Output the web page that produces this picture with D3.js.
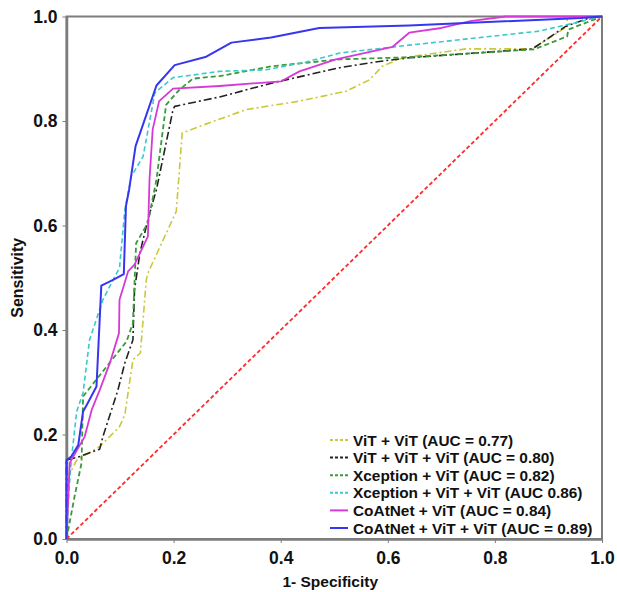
<!DOCTYPE html>
<html>
<head>
<meta charset="utf-8">
<script src="https://cdn.jsdelivr.net/npm/d3@7"></script>
<style>
  body { margin: 0; background: #fff; }
  text { font-family: "Liberation Sans", Arial, sans-serif; font-weight: bold; fill: #111; }
</style>
</head>
<body>
<svg id="chart" width="617" height="592"></svg>
<script>
// ROC points [1 - specificity, sensitivity]
const vitVit = [[0,0],[0.003,0.119],[0.019,0.151],[0.062,0.177],[0.099,0.215],[0.109,0.238],[0.124,0.343],[0.138,0.356],[0.149,0.496],[0.152,0.509],[0.205,0.627],[0.216,0.777],[0.249,0.790],[0.336,0.822],[0.435,0.838],[0.522,0.857],[0.566,0.879],[0.590,0.905],[0.628,0.921],[0.746,0.938],[0.870,0.938],[0.935,0.981],[0.935,1.0],[1,1]]
const vitVitVit = [[0,0],[0,0.151],[0.025,0.158],[0.062,0.172],[0.068,0.196],[0.096,0.285],[0.109,0.337],[0.124,0.381],[0.127,0.477],[0.137,0.547],[0.152,0.611],[0.168,0.669],[0.199,0.822],[0.202,0.828],[0.286,0.846],[0.385,0.873],[0.510,0.902],[0.584,0.914],[0.640,0.921],[0.870,0.938],[0.932,0.981],[0.975,0.997],[1,1]]
const xceptionVit = [[0,0],[0.015,0.081],[0.028,0.145],[0.031,0.273],[0.112,0.378],[0.124,0.413],[0.130,0.566],[0.152,0.605],[0.168,0.688],[0.186,0.831],[0.211,0.860],[0.236,0.881],[0.286,0.886],[0.385,0.905],[0.510,0.918],[0.640,0.922],[0.873,0.937],[0.935,0.962],[0.937,0.975],[1,1]]
const xceptionVitVit = [[0,0],[0.005,0.10],[0.009,0.151],[0.019,0.244],[0.031,0.28],[0.043,0.381],[0.068,0.458],[0.087,0.496],[0.099,0.519],[0.109,0.630],[0.121,0.694],[0.143,0.732],[0.165,0.854],[0.199,0.883],[0.286,0.895],[0.373,0.898],[0.448,0.913],[0.510,0.930],[0.621,0.943],[0.883,0.972],[1,1]]
const coatnetVit = [[0,0],[0.006,0.145],[0.009,0.151],[0.034,0.196],[0.047,0.247],[0.062,0.285],[0.081,0.337],[0.098,0.394],[0.099,0.458],[0.115,0.512],[0.127,0.525],[0.152,0.579],[0.155,0.688],[0.161,0.784],[0.173,0.838],[0.199,0.862],[0.286,0.867],[0.401,0.876],[0.435,0.895],[0.503,0.918],[0.609,0.942],[0.640,0.969],[0.700,0.978],[0.754,0.991],[0.820,1.0],[1,1]]
const coatnetVitVit = [[0,0],[0,0.151],[0.009,0.158],[0.022,0.18],[0.031,0.244],[0.038,0.257],[0.056,0.292],[0.065,0.485],[0.087,0.496],[0.107,0.507],[0.111,0.637],[0.117,0.669],[0.129,0.752],[0.168,0.868],[0.202,0.907],[0.261,0.923],[0.308,0.950],[0.382,0.960],[0.472,0.978],[0.640,0.983],[0.960,0.997],[1,1]]
const chance = [[0,0],[1,1]]

const seriesNames = ["ViT + ViT (AUC = 0.77)", "ViT + ViT + ViT (AUC = 0.80)", "Xception + ViT (AUC = 0.82)",
    "Xception + ViT + ViT (AUC 0.86)", "CoAtNet + ViT (AUC = 0.84)", "CoAtNet + ViT + ViT (AUC = 0.89)"]
const seriesData = [vitVit, vitVitVit, xceptionVit, xceptionVitVit, coatnetVit, coatnetVitVit]
const ticks = [0, 0.2, 0.4, 0.6, 0.8, 1.0]

// line look for each series
const styles = [
    {color: "#c9c93a", dash: "7,3,2,3", width: 1.6},
    {color: "#222222", dash: "8,3,2,3", width: 1.6},
    {color: "#3a9a3a", dash: "5,3", width: 1.8},
    {color: "#3cc8cc", dash: "5,3", width: 1.6},
    {color: "#d63ad6", dash: null, width: 1.8},
    {color: "#3636f0", dash: null, width: 2}
]

const margin = {top: 16.5, right: 15, bottom: 53, left: 66.5}
const width = 617 - margin.left - margin.right
const height = 592 - margin.top - margin.bottom

const svg = d3.select("#chart")
const g = svg.append("g").attr("transform", `translate(${margin.left},${margin.top})`)

const xScale = d3.scaleLinear().domain([0, 1]).range([0, width])
const yScale = d3.scaleLinear().domain([0, 1]).range([height, 0])

const line = d3.line()
    .x(function(d) { return xScale(d[0]) })
    .y(function(d) { return yScale(d[1]) })

// frame
g.append("rect")
    .attr("width", width).attr("height", height)
    .attr("fill", "none").attr("stroke", "#7d7d7d").attr("stroke-width", 2)

// axes
const xAxis = g.append("g")
    .attr("transform", `translate(0, ${height})`)
    .call(d3.axisBottom(xScale).tickValues(ticks).tickFormat(d3.format(".1f")).tickSize(4).tickSizeOuter(0))
const yAxis = g.append("g")
    .call(d3.axisLeft(yScale).tickValues(ticks).tickFormat(d3.format(".1f")).tickSize(4).tickSizeOuter(0))

for (const ax of [xAxis, yAxis]) {
    ax.select(".domain").attr("stroke", "#7d7d7d").attr("stroke-width", 2.5)
    ax.selectAll(".tick line").attr("stroke", "#7d7d7d")
    ax.selectAll(".tick text").style("font-size", "17.5px").attr("fill", "#111")
}
xAxis.selectAll(".tick text").attr("dy", "1.05em")
yAxis.selectAll(".tick text").attr("x", -9)

// diagonal reference
g.append("path")
    .datum(chance)
    .attr("d", line)
    .attr("fill", "none")
    .attr("stroke", "#ff2a2a")
    .attr("stroke-width", 1.8)
    .attr("stroke-dasharray", "4,2.5")

// ROC curves
g.selectAll("path.roc").data(seriesData)
    .join("path")
    .attr("class", "roc")
    .attr("d", line)
    .attr("fill", "none")
    .attr("stroke", function(d, i) { return styles[i].color })
    .attr("stroke-width", function(d, i) { return styles[i].width })
    .attr("stroke-dasharray", function(d, i) { return styles[i].dash })
    .attr("stroke-linejoin", "round")

// legend
const legend = svg.append("g").attr("transform", "translate(330, 440)")
const items = legend.selectAll("g").data(seriesNames)
    .join("g")
    .attr("transform", function(d, i) { return `translate(0, ${i * 17.6})` })
items.append("line")
    .attr("x1", 0).attr("x2", 18)
    .attr("stroke", function(d, i) { return styles[i].color })
    .attr("stroke-width", 2)
    .attr("stroke-dasharray", function(d, i) { return styles[i].dash ? "3,2" : null })
items.append("text")
    .attr("x", 23).attr("dy", "0.36em")
    .style("font-size", "15.4px")
    .text(function(d) { return d })

// axis titles
svg.append("text")
    .attr("x", margin.left + width / 2 - 4).attr("y", 587)
    .attr("text-anchor", "middle")
    .style("font-size", "15.5px")
    .text("1- Specificity")
svg.append("text")
    .attr("transform", `translate(23, ${margin.top + height / 2}) rotate(-90)`)
    .attr("text-anchor", "middle")
    .style("font-size", "16px")
    .text("Sensitivity")
</script>
</body>
</html>
